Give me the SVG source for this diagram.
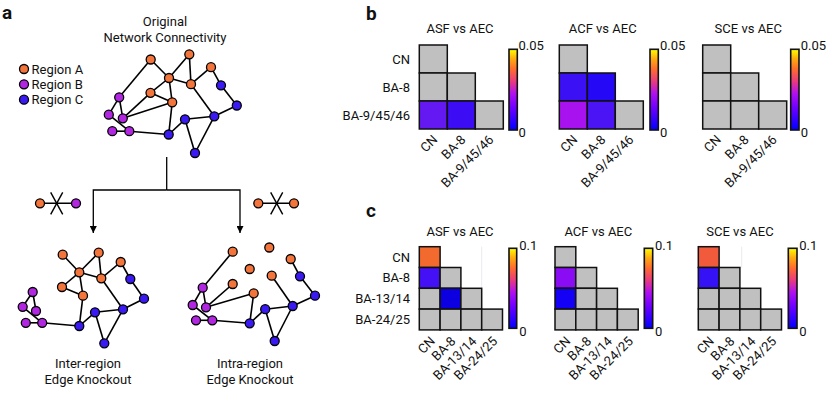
<svg xmlns="http://www.w3.org/2000/svg" width="830" height="397" viewBox="0 0 830 397">
<style>
text{font-family:Roboto,"Liberation Sans",Arial,sans-serif;font-size:13px;fill:#111}
.lbl{font-weight:bold;font-size:19px}
.mid{text-anchor:middle}
.end{text-anchor:end}
.e line{stroke:#000;stroke-width:1.6}
.a{fill:#f3753b;stroke:#000;stroke-width:1.3}
.b{fill:#b126e0;stroke:#000;stroke-width:1.3}
.c{fill:#3a1af2;stroke:#000;stroke-width:1.3}
.cell{fill:#c0c0c0;stroke:#111;stroke-width:1.5}
.cbar{fill:url(#cmap);stroke:#111;stroke-width:1.6}
.conn{stroke:#000;stroke-width:1.3;fill:none}
.art{stroke:#e2e2ec;stroke-width:0.8}
</style>
<defs>
<linearGradient id="cmap" x1="0" y1="1" x2="0" y2="0">
<stop offset="0" stop-color="#0000ff"/>
<stop offset="0.28" stop-color="#7000ff"/>
<stop offset="0.45" stop-color="#b010f0"/>
<stop offset="0.6" stop-color="#e83a80"/>
<stop offset="0.75" stop-color="#ff6a30"/>
<stop offset="0.88" stop-color="#ffaa10"/>
<stop offset="1" stop-color="#ffff00"/>
</linearGradient>
<marker id="arr" viewBox="0 0 10 10" refX="10" refY="5" markerWidth="8" markerHeight="7" markerUnits="userSpaceOnUse" orient="auto">
<path d="M0,0 L10,5 L0,10 z" fill="#000"/>
</marker>
</defs>

<!-- panel letters -->
<text class="lbl" x="2" y="18.5">a</text>
<text class="lbl" x="366" y="20">b</text>
<text class="lbl" x="366" y="217">c</text>

<!-- legend -->
<g id="legend">
<circle class="a" cx="24" cy="69" r="4.5"/><text x="31.5" y="73.5">Region A</text>
<circle class="b" cx="24" cy="84.3" r="4.5"/><text x="31.5" y="88.8">Region B</text>
<circle class="c" cx="24" cy="99.7" r="4.5"/><text x="31.5" y="104.2">Region C</text>
</g>

<!-- original network -->
<g id="original">
<text class="mid" x="165" y="25.5">Original</text>
<text class="mid" x="165" y="41.5">Network Connectivity</text>
<g class="e">
<line x1="150.7" y1="59.5" x2="169" y2="78"/>
<line x1="150.7" y1="59.5" x2="119.2" y2="97.3"/>
<line x1="189.3" y1="54.3" x2="169" y2="78"/>
<line x1="189.3" y1="54.3" x2="191" y2="84.2"/>
<line x1="169" y1="78" x2="191" y2="84.2"/>
<line x1="191" y1="84.2" x2="211" y2="67.2"/>
<line x1="211" y1="67.2" x2="221" y2="85.3"/>
<line x1="221" y1="85.3" x2="236.8" y2="105.5"/>
<line x1="236.8" y1="105.5" x2="214.3" y2="116.3"/>
<line x1="191" y1="84.2" x2="214.3" y2="116.3"/>
<line x1="169" y1="78" x2="150.5" y2="92.8"/>
<line x1="169" y1="78" x2="172.2" y2="102.3"/>
<line x1="150.5" y1="92.8" x2="172.2" y2="102.3"/>
<line x1="150.5" y1="92.8" x2="122.8" y2="118.3"/>
<line x1="172.2" y1="102.3" x2="122.8" y2="118.3"/>
<line x1="172.2" y1="102.3" x2="168.7" y2="134.5"/>
<line x1="119.2" y1="97.3" x2="108.8" y2="114.7"/>
<line x1="119.2" y1="97.3" x2="122.8" y2="118.3"/>
<line x1="108.8" y1="114.7" x2="129.3" y2="131.2"/>
<line x1="112.3" y1="131.2" x2="129.3" y2="131.2"/>
<line x1="129.3" y1="131.2" x2="168.7" y2="134.5"/>
<line x1="168.7" y1="134.5" x2="185" y2="119.3"/>
<line x1="185" y1="119.3" x2="214.3" y2="116.3"/>
<line x1="185" y1="119.3" x2="195" y2="153"/>
<line x1="214.3" y1="116.3" x2="195" y2="153"/>
</g>
<circle class="a" cx="150.7" cy="59.5" r="4.5"/>
<circle class="a" cx="189.3" cy="54.3" r="4.5"/>
<circle class="a" cx="211" cy="67.2" r="4.5"/>
<circle class="a" cx="169" cy="78" r="4.5"/>
<circle class="a" cx="191" cy="84.2" r="4.5"/>
<circle class="a" cx="150.5" cy="92.8" r="4.5"/>
<circle class="a" cx="172.2" cy="102.3" r="4.5"/>
<circle class="b" cx="119.2" cy="97.3" r="4.5"/>
<circle class="b" cx="108.8" cy="114.7" r="4.5"/>
<circle class="b" cx="122.8" cy="118.3" r="4.5"/>
<circle class="b" cx="112.3" cy="131.2" r="4.5"/>
<circle class="b" cx="129.3" cy="131.2" r="4.5"/>
<circle class="c" cx="221" cy="85.3" r="4.5"/>
<circle class="c" cx="236.8" cy="105.5" r="4.5"/>
<circle class="c" cx="214.3" cy="116.3" r="4.5"/>
<circle class="c" cx="185" cy="119.3" r="4.5"/>
<circle class="c" cx="168.7" cy="134.5" r="4.5"/>
<circle class="c" cx="195" cy="153" r="4.5"/>
</g>

<!-- connectors -->
<g id="connectors">
<polyline class="conn" points="166.7,157 166.7,190"/>
<polyline class="conn" points="166.7,190 93.3,190 93.3,233" marker-end="url(#arr)"/>
<polyline class="conn" points="166.7,190 240,190 240,233" marker-end="url(#arr)"/>
</g>

<!-- knockout icons -->
<g id="icon-inter">
<line x1="40" y1="203.3" x2="76" y2="203.3" stroke="#000" stroke-width="1.6"/>
<line x1="50.7" y1="192.3" x2="62.7" y2="214.3" stroke="#000" stroke-width="1.4"/>
<line x1="62.7" y1="192.3" x2="50.7" y2="214.3" stroke="#000" stroke-width="1.4"/>
<circle class="a" cx="40" cy="203.3" r="4.5"/>
<circle class="b" cx="76" cy="203.3" r="4.5"/>
</g>
<g id="icon-intra">
<line x1="258.3" y1="203.3" x2="294" y2="203.3" stroke="#000" stroke-width="1.6"/>
<line x1="270.7" y1="192.3" x2="282.7" y2="214.3" stroke="#000" stroke-width="1.4"/>
<line x1="282.7" y1="192.3" x2="270.7" y2="214.3" stroke="#000" stroke-width="1.4"/>
<circle class="a" cx="258.3" cy="203.3" r="4.5"/>
<circle class="a" cx="294" cy="203.3" r="4.5"/>
</g>

<!-- inter-region network -->
<g id="inter">
<g class="e">
<line x1="62.7" y1="254.7" x2="79.3" y2="272.3"/>
<line x1="98.7" y1="252.7" x2="79.3" y2="272.3"/>
<line x1="98.7" y1="252.7" x2="101.3" y2="278.3"/>
<line x1="79.3" y1="272.3" x2="101.3" y2="278.3"/>
<line x1="101.3" y1="278.3" x2="120.7" y2="262"/>
<line x1="120.7" y1="262" x2="130.3" y2="279"/>
<line x1="130.3" y1="279" x2="144" y2="298.7"/>
<line x1="144" y1="298.7" x2="123" y2="309.3"/>
<line x1="101.3" y1="278.3" x2="123" y2="309.3"/>
<line x1="79.3" y1="272.3" x2="62" y2="287"/>
<line x1="79.3" y1="272.3" x2="83" y2="295.7"/>
<line x1="62" y1="287" x2="83" y2="295.7"/>
<line x1="83" y1="295.7" x2="79.3" y2="326"/>
<line x1="32.7" y1="292" x2="22.7" y2="306.8"/>
<line x1="32.7" y1="292" x2="36" y2="311"/>
<line x1="22.7" y1="306.8" x2="42.2" y2="322.8"/>
<line x1="25.8" y1="322.8" x2="42.2" y2="322.8"/>
<line x1="42.2" y1="322.8" x2="79.3" y2="326"/>
<line x1="79.3" y1="326" x2="95" y2="312.3"/>
<line x1="95" y1="312.3" x2="123" y2="309.3"/>
<line x1="95" y1="312.3" x2="104.3" y2="343.3"/>
<line x1="123" y1="309.3" x2="104.3" y2="343.3"/>
</g>
<circle class="a" cx="62.7" cy="254.7" r="4.5"/>
<circle class="a" cx="98.7" cy="252.7" r="4.5"/>
<circle class="a" cx="120.7" cy="262" r="4.5"/>
<circle class="a" cx="79.3" cy="272.3" r="4.5"/>
<circle class="a" cx="101.3" cy="278.3" r="4.5"/>
<circle class="a" cx="62" cy="287" r="4.5"/>
<circle class="a" cx="83" cy="295.7" r="4.5"/>
<circle class="b" cx="32.7" cy="292" r="4.5"/>
<circle class="b" cx="22.7" cy="306.8" r="4.5"/>
<circle class="b" cx="36" cy="311" r="4.5"/>
<circle class="b" cx="25.8" cy="322.8" r="4.5"/>
<circle class="b" cx="42.2" cy="322.8" r="4.5"/>
<circle class="c" cx="130.3" cy="279" r="4.5"/>
<circle class="c" cx="144" cy="298.7" r="4.5"/>
<circle class="c" cx="123" cy="309.3" r="4.5"/>
<circle class="c" cx="95" cy="312.3" r="4.5"/>
<circle class="c" cx="79.3" cy="326" r="4.5"/>
<circle class="c" cx="104.3" cy="343.3" r="4.5"/>
<text class="mid" x="88" y="367.5">Inter-region</text>
<text class="mid" x="88" y="383.5">Edge Knockout</text>
</g>

<!-- intra-region network -->
<g id="intra">
<g class="e">
<line x1="232.7" y1="251.7" x2="202.7" y2="287.7"/>
<line x1="232.7" y1="284" x2="206" y2="307.3"/>
<line x1="253.7" y1="293.3" x2="206" y2="307.3"/>
<line x1="253.7" y1="293.3" x2="249.7" y2="323.3"/>
<line x1="290.7" y1="259" x2="300" y2="276.3"/>
<line x1="271.7" y1="275.7" x2="292.7" y2="306"/>
<line x1="300" y1="276.3" x2="315" y2="295.7"/>
<line x1="315" y1="295.7" x2="292.7" y2="306"/>
<line x1="202.7" y1="287.7" x2="192.7" y2="305"/>
<line x1="202.7" y1="287.7" x2="206" y2="307.3"/>
<line x1="192.7" y1="305" x2="212.3" y2="320.3"/>
<line x1="196" y1="320.3" x2="212.3" y2="320.3"/>
<line x1="212.3" y1="320.3" x2="249.7" y2="323.3"/>
<line x1="249.7" y1="323.3" x2="265.2" y2="309.2"/>
<line x1="265.2" y1="309.2" x2="292.7" y2="306"/>
<line x1="265.2" y1="309.2" x2="274.7" y2="341"/>
<line x1="292.7" y1="306" x2="274.7" y2="341"/>
</g>
<circle class="a" cx="232.7" cy="251.7" r="4.5"/>
<circle class="a" cx="269.3" cy="247.5" r="4.5"/>
<circle class="a" cx="290.7" cy="259" r="4.5"/>
<circle class="a" cx="249.7" cy="269" r="4.5"/>
<circle class="a" cx="271.7" cy="275.7" r="4.5"/>
<circle class="a" cx="232.7" cy="284" r="4.5"/>
<circle class="a" cx="253.7" cy="293.3" r="4.5"/>
<circle class="b" cx="202.7" cy="287.7" r="4.5"/>
<circle class="b" cx="192.7" cy="305" r="4.5"/>
<circle class="b" cx="206" cy="307.3" r="4.5"/>
<circle class="b" cx="196" cy="320.3" r="4.5"/>
<circle class="b" cx="212.3" cy="320.3" r="4.5"/>
<circle class="c" cx="300" cy="276.3" r="4.5"/>
<circle class="c" cx="315" cy="295.7" r="4.5"/>
<circle class="c" cx="292.7" cy="306" r="4.5"/>
<circle class="c" cx="265.2" cy="309.2" r="4.5"/>
<circle class="c" cx="249.7" cy="323.3" r="4.5"/>
<circle class="c" cx="274.7" cy="341" r="4.5"/>
<text class="mid" x="250" y="367.5">Intra-region</text>
<text class="mid" x="250" y="383.5">Edge Knockout</text>
</g>

<!-- panel b -->
<g id="b-asf">
<text class="mid" x="460" y="33.2">ASF vs AEC</text>
<text class="end" x="410" y="63.5">CN</text>
<text class="end" x="410" y="91.5">BA-8</text>
<text class="end" x="410" y="119.5">BA-9/45/46</text>
<g transform="translate(419.3,45)">
<rect class="cell" x="0" y="0" width="28" height="28"/>
<rect class="cell" x="0" y="28" width="28" height="28"/>
<rect class="cell" x="28" y="28" width="28" height="28"/>
<rect class="cell" x="0" y="56" width="28" height="28" style="fill:#6418f2"/>
<rect class="cell" x="28" y="56" width="28" height="28" style="fill:#3c0cf4"/>
<rect class="cell" x="56" y="56" width="28" height="28"/>
<text class="end" transform="translate(19,95.5) rotate(-45)">CN</text>
<text class="end" transform="translate(47,95.5) rotate(-45)">BA-8</text>
<text class="end" transform="translate(75,95.5) rotate(-45)">BA-9/45/46</text>
</g>
<rect class="cbar" x="509" y="49.3" width="8.3" height="80.7"/>
<text x="518.5" y="50">0.05</text>
<text x="518.5" y="136.7">0</text>
</g>

<g id="b-acf">
<text class="mid" x="602.7" y="33.2">ACF vs AEC</text>
<g transform="translate(559.3,45)">
<rect class="cell" x="0" y="0" width="28" height="28"/>
<rect class="cell" x="0" y="28" width="28" height="28" style="fill:#3c10f4"/>
<rect class="cell" x="28" y="28" width="28" height="28" style="fill:#2408f6"/>
<rect class="cell" x="0" y="56" width="28" height="28" style="fill:#a812ee"/>
<rect class="cell" x="28" y="56" width="28" height="28" style="fill:#4a14f4"/>
<rect class="cell" x="56" y="56" width="28" height="28"/>
<text class="end" transform="translate(19,95.5) rotate(-45)">CN</text>
<text class="end" transform="translate(47,95.5) rotate(-45)">BA-8</text>
<text class="end" transform="translate(75,95.5) rotate(-45)">BA-9/45/46</text>
</g>
<rect class="cbar" x="650" y="49.3" width="8.3" height="80.7"/>
<text x="660" y="50">0.05</text>
<text x="660" y="136.7">0</text>
</g>

<g id="b-sce">
<text class="mid" x="748.3" y="33.2">SCE vs AEC</text>
<g transform="translate(702.7,45)">
<rect class="cell" x="0" y="0" width="28" height="28"/>
<rect class="cell" x="0" y="28" width="28" height="28"/>
<rect class="cell" x="28" y="28" width="28" height="28"/>
<rect class="cell" x="0" y="56" width="28" height="28"/>
<rect class="cell" x="28" y="56" width="28" height="28"/>
<rect class="cell" x="56" y="56" width="28" height="28"/>
<text class="end" transform="translate(19,95.5) rotate(-45)">CN</text>
<text class="end" transform="translate(47,95.5) rotate(-45)">BA-8</text>
<text class="end" transform="translate(75,95.5) rotate(-45)">BA-9/45/46</text>
</g>
<rect class="cbar" x="790.7" y="49.3" width="8.3" height="80.7"/>
<text x="800.7" y="50">0.05</text>
<text x="800.7" y="136.7">0</text>
</g>

<!-- panel c -->
<g id="c-asf">
<text class="mid" x="460" y="236">ASF vs AEC</text>
<text class="end" x="410" y="261.6">CN</text>
<text class="end" x="410" y="282.4">BA-8</text>
<text class="end" x="410" y="303.2">BA-13/14</text>
<text class="end" x="410" y="324">BA-24/25</text>
<line class="art" x1="481.7" y1="246.7" x2="481.7" y2="288"/>
<g transform="translate(419.3,246.7)">
<rect class="cell" x="0" y="0" width="20.8" height="20.8" style="fill:#f26a2e"/>
<rect class="cell" x="0" y="20.8" width="20.8" height="20.8" style="fill:#4410f5"/>
<rect class="cell" x="20.8" y="20.8" width="20.8" height="20.8"/>
<rect class="cell" x="0" y="41.6" width="20.8" height="20.8"/>
<rect class="cell" x="20.8" y="41.6" width="20.8" height="20.8" style="fill:#0c00e0"/>
<rect class="cell" x="41.6" y="41.6" width="20.8" height="20.8"/>
<rect class="cell" x="0" y="62.4" width="20.8" height="20.8"/>
<rect class="cell" x="20.8" y="62.4" width="20.8" height="20.8"/>
<rect class="cell" x="41.6" y="62.4" width="20.8" height="20.8"/>
<rect class="cell" x="62.4" y="62.4" width="20.8" height="20.8"/>
<text class="end" transform="translate(16.4,95.3) rotate(-45)">CN</text>
<text class="end" transform="translate(37.2,95.3) rotate(-45)">BA-8</text>
<text class="end" transform="translate(58,95.3) rotate(-45)">BA-13/14</text>
<text class="end" transform="translate(78.8,95.3) rotate(-45)">BA-24/25</text>
</g>
<rect class="cbar" x="509" y="248.3" width="7.7" height="80"/>
<text x="519.3" y="250">0.1</text>
<text x="519.3" y="335.5">0</text>
</g>

<g id="c-acf">
<text class="mid" x="598.3" y="236">ACF vs AEC</text>
<g transform="translate(555,246.7)">
<rect class="cell" x="0" y="0" width="20.8" height="20.8"/>
<rect class="cell" x="0" y="20.8" width="20.8" height="20.8" style="fill:#8a0cf5"/>
<rect class="cell" x="20.8" y="20.8" width="20.8" height="20.8"/>
<rect class="cell" x="0" y="41.6" width="20.8" height="20.8" style="fill:#1400f5"/>
<rect class="cell" x="20.8" y="41.6" width="20.8" height="20.8"/>
<rect class="cell" x="41.6" y="41.6" width="20.8" height="20.8"/>
<rect class="cell" x="0" y="62.4" width="20.8" height="20.8"/>
<rect class="cell" x="20.8" y="62.4" width="20.8" height="20.8"/>
<rect class="cell" x="41.6" y="62.4" width="20.8" height="20.8"/>
<rect class="cell" x="62.4" y="62.4" width="20.8" height="20.8"/>
<text class="end" transform="translate(16.4,95.3) rotate(-45)">CN</text>
<text class="end" transform="translate(37.2,95.3) rotate(-45)">BA-8</text>
<text class="end" transform="translate(58,95.3) rotate(-45)">BA-13/14</text>
<text class="end" transform="translate(78.8,95.3) rotate(-45)">BA-24/25</text>
</g>
<rect class="cbar" x="644.3" y="248.3" width="8.4" height="80"/>
<text x="655" y="250">0.1</text>
<text x="655" y="335.5">0</text>
</g>

<g id="c-sce">
<text class="mid" x="740" y="236">SCE vs AEC</text>
<line class="art" x1="741.7" y1="246.7" x2="741.7" y2="267.5"/>
<g transform="translate(698.3,246.7)">
<rect class="cell" x="0" y="0" width="20.8" height="20.8" style="fill:#f25a3c"/>
<rect class="cell" x="0" y="20.8" width="20.8" height="20.8" style="fill:#3412f5"/>
<rect class="cell" x="20.8" y="20.8" width="20.8" height="20.8"/>
<rect class="cell" x="0" y="41.6" width="20.8" height="20.8"/>
<rect class="cell" x="20.8" y="41.6" width="20.8" height="20.8"/>
<rect class="cell" x="41.6" y="41.6" width="20.8" height="20.8"/>
<rect class="cell" x="0" y="62.4" width="20.8" height="20.8"/>
<rect class="cell" x="20.8" y="62.4" width="20.8" height="20.8"/>
<rect class="cell" x="41.6" y="62.4" width="20.8" height="20.8"/>
<rect class="cell" x="62.4" y="62.4" width="20.8" height="20.8"/>
<text class="end" transform="translate(16.4,95.3) rotate(-45)">CN</text>
<text class="end" transform="translate(37.2,95.3) rotate(-45)">BA-8</text>
<text class="end" transform="translate(58,95.3) rotate(-45)">BA-13/14</text>
<text class="end" transform="translate(78.8,95.3) rotate(-45)">BA-24/25</text>
</g>
<rect class="cbar" x="788.3" y="248.3" width="8.7" height="80"/>
<text x="799.3" y="250">0.1</text>
<text x="799.3" y="335.5">0</text>
</g>
</svg>
